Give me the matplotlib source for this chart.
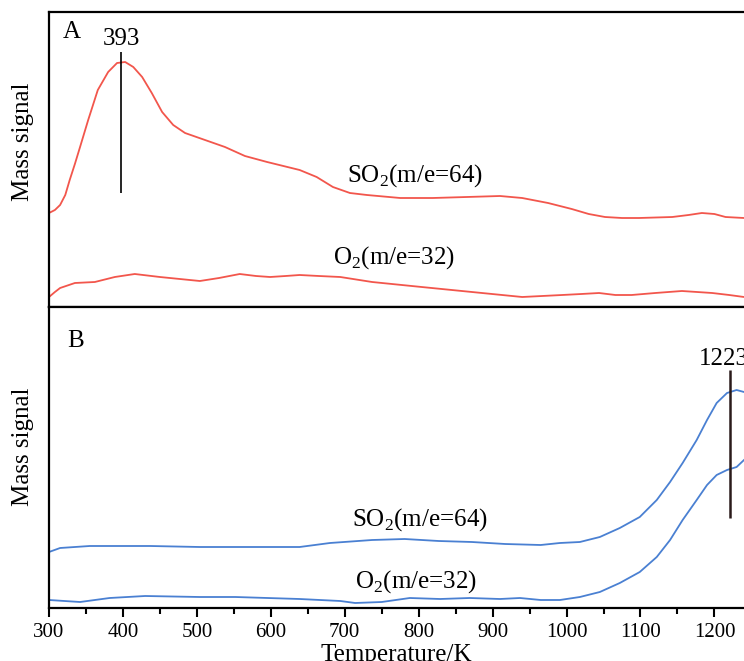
import matplotlib
matplotlib.use("Agg")
import matplotlib.pyplot as plt
from matplotlib.ticker import MultipleLocator

plt.rcParams['font.family'] = ['Liberation Serif', 'DejaVu Serif']
plt.rcParams['mathtext.fontset'] = 'custom'
plt.rcParams['mathtext.rm'] = 'Liberation Serif'

# panel A (red), arbitrary units
t_so2_a = [300, 308, 315, 322, 328, 335, 342, 353, 366, 380, 392, 403, 414, 426, 439,
           453, 468, 484, 511, 538, 565, 595, 639, 662, 684, 707, 730, 775, 819,
           865, 910, 940, 975, 1007, 1030, 1052, 1075, 1098, 1143, 1165, 1183, 1200,
           1215, 1240]
so2_a = [94, 97, 102, 112, 127, 143, 160, 187, 217, 235, 244, 245, 240, 230, 214,
         195, 182, 174, 167, 160, 151, 145, 137, 130, 120, 114, 112, 109, 109,
         110, 111, 109, 104, 98, 93, 90, 89, 89, 90, 92, 94, 93, 90, 89]

t_o2_a = [300, 308, 315, 335, 362, 389, 416, 450, 504, 530, 558, 580, 599, 620, 639,
          665, 694, 737, 804, 872, 940, 994, 1020, 1044, 1066, 1088, 1120, 1156,
          1197, 1220, 1240]
o2_a = [10, 15, 19, 24, 25, 30, 33, 30, 26, 29, 33, 31, 30, 31, 32,
        31, 30, 25, 20, 15, 10, 12, 13, 14, 12, 12, 14, 16, 14, 12, 10]

# panel B (blue)
t_so2_b = [300, 315, 355, 437, 504, 585, 639, 680, 737, 781, 827, 872, 917, 965,
           991, 1018, 1045, 1072, 1099, 1122, 1140, 1157, 1176, 1190, 1203, 1217,
           1230, 1240]
so2_b = [56, 60, 62, 62, 61, 61, 61, 65, 68, 69, 67, 66, 64, 63,
         65, 66, 71, 80, 91, 108, 126, 145, 168, 188, 205, 215, 218, 216]

t_o2_b = [300, 342, 382, 430, 504, 552, 639, 694, 714, 750, 788, 829, 869, 910, 937,
          965, 991, 1018, 1045, 1072, 1099, 1122, 1140, 1157, 1176, 1190, 1203,
          1217, 1230, 1240]
o2_b = [8, 6, 10, 12, 11, 11, 9, 7, 5, 6, 10, 9, 10, 9, 10,
        8, 8, 11, 16, 25, 36, 51, 68, 88, 108, 123, 133, 138, 141, 148]

red = '#f2564c'
blue = '#4a80d2'

fig = plt.figure(figsize=(7.44, 6.61), dpi=100)
ax1 = fig.add_axes([49/744, 1 - 307/661, 1 - 49/744, 295/661])
ax2 = fig.add_axes([49/744, 1 - 608/661, 1 - 49/744, 301/661])

for ax in (ax1, ax2):
    ax.set_xlim(300, 1240)
    ax.spines['right'].set_visible(False)
    for s in ('left', 'top', 'bottom'):
        ax.spines[s].set_linewidth(1.6)
    ax.set_yticks([])

ax1.set_ylabel('Mass signal', fontsize=18)
ax1.yaxis.set_label_coords(-0.022, 0.56)
ax2.set_ylabel('Mass signal', fontsize=18)
ax2.yaxis.set_label_coords(-0.022, 0.535)

ax1.set_ylim(0, 295)
ax2.set_ylim(0, 301)

ax1.plot(t_so2_a, so2_a, color=red, lw=1.3)
ax1.plot(t_o2_a, o2_a, color=red, lw=1.3)
ax2.plot(t_so2_b, so2_b, color=blue, lw=1.3)
ax2.plot(t_o2_b, o2_b, color=blue, lw=1.3)

ax1.tick_params(axis='x', which='both', bottom=False, labelbottom=False)
ax2.xaxis.set_major_locator(MultipleLocator(100))
ax2.xaxis.set_minor_locator(MultipleLocator(50))
ax2.tick_params(axis='x', which='major', direction='out', length=6.5, width=1.5,
                labelsize=15, pad=4)
ax2.tick_params(axis='x', which='minor', direction='out', length=4, width=1.5)
ax2.set_xlabel('Temperature/K', fontsize=18, labelpad=2)

# peak markers
ax1.vlines(398, 114, 255, color='black', lw=1.2)
ax1.text(398, 262, '393', fontsize=18, ha='center', va='baseline')
ax2.vlines(1221, 90, 238, color='#2a1a1a', lw=1.8)
ax2.text(1213, 243, '1223', fontsize=18, ha='center', va='baseline')

ax1.text(319, 269, 'A', fontsize=18, va='baseline')
ax2.text(324, 261, 'B', fontsize=18, va='baseline')

ax1.text(703, 125, r'SO$_2$(m/e=64)', fontsize=18, va='baseline')
ax1.text(684, 43, r'O$_2$(m/e=32)', fontsize=18, va='baseline')
ax2.text(710, 82, r'SO$_2$(m/e=64)', fontsize=18, va='baseline')
ax2.text(714, 20, r'O$_2$(m/e=32)', fontsize=18, va='baseline')

fig.savefig('out.png', dpi=100)
